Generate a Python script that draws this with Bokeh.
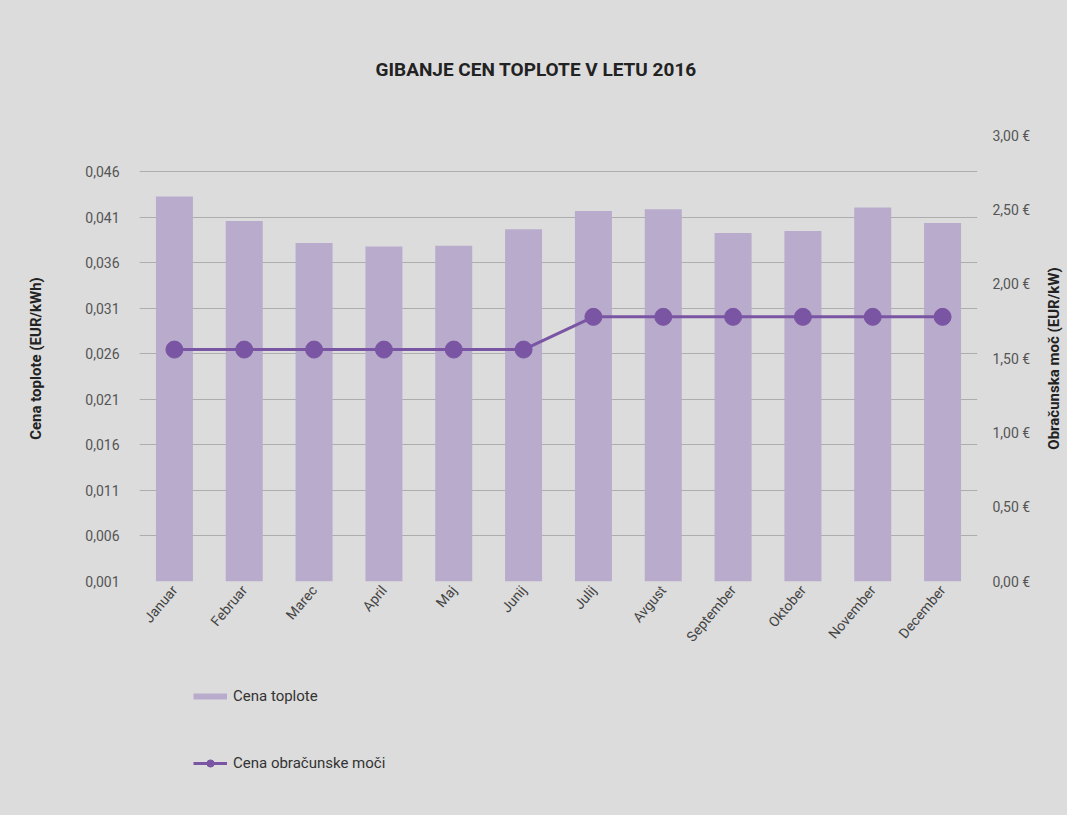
from bokeh.plotting import figure
from bokeh.layouts import column, row
from bokeh.models import (FactorRange, Range1d, LinearAxis, FixedTicker, CustomJSTickFormatter,
                          Legend, LegendItem, ColumnDataSource)
from bokeh.embed import file_html
from bokeh.resources import INLINE

months = ["Januar", "Februar", "Marec", "April", "Maj", "Junij", "Julij", "Avgust",
          "September", "Oktober", "November", "December"]
heat_price = [0.0433, 0.0406, 0.0382, 0.0378, 0.0379, 0.0397, 0.0417, 0.0419,
              0.0393, 0.0395, 0.0421, 0.0404]
power_price = [1.56, 1.56, 1.56, 1.56, 1.56, 1.56, 1.78, 1.78, 1.78, 1.78, 1.78, 1.78]
left_ticks = [0.001, 0.006, 0.011, 0.016, 0.021, 0.026, 0.031, 0.036, 0.041, 0.046]
right_ticks = [0.0, 0.5, 1.0, 1.5, 2.0, 2.5, 3.0]
series_names = ["Cena toplote", "Cena obračunske moči"]
right_label = "Obračunska moč (EUR/kW)"

FONT = "Roboto"
BG = "#dcdcdc"
BAR = "#b9abcc"
LINE = "#7a55a3"
CSS = {"background-color": BG}

src = ColumnDataSource(dict(m=months, heat=heat_price, power=power_price))

p = figure(width=1042, height=660, x_range=FactorRange(*months), y_range=Range1d(0.001, 0.050),
           output_backend="svg", toolbar_location=None,
           min_border_left=139, min_border_right=65, min_border_top=135, min_border_bottom=79,
           background_fill_color=None, border_fill_color=BG)
p.styles = CSS
p.outline_line_color = None
p.extra_y_ranges = {"right": Range1d(0, 3.0)}

p.title.text = "GIBANJE CEN TOPLOTE V LETU 2016"
p.title.align = "left"
p.title.offset = 236
p.title.text_font = FONT
p.title.text_font_size = "19px"
p.title.text_font_style = "bold"
p.title.text_color = "#222222"
p.title.standoff = 110

p.vbar(x="m", top="heat", bottom=0.001, width=0.53, source=src,
       fill_color=BAR, line_color=None)
p.line(x="m", y="power", source=src, y_range_name="right", line_color=LINE, line_width=3)
p.scatter(x="m", y="power", source=src, y_range_name="right", size=17,
          fill_color=LINE, line_color=LINE)

# left axis
ya = p.yaxis[0]
ya.ticker = FixedTicker(ticks=left_ticks)
ya.formatter = CustomJSTickFormatter(code="return tick.toFixed(3).replace('.', ',');")
ya.axis_label = "Cena toplote (EUR/kWh)"
ya.axis_label_text_font = FONT
ya.axis_label_text_font_size = "15px"
ya.axis_label_text_font_style = "bold"
ya.axis_label_text_color = "#222222"
ya.axis_label_standoff = 37
ya.major_label_text_font = FONT
ya.major_label_text_font_size = "14px"
ya.major_label_text_color = "#555555"
ya.major_label_standoff = 20
ya.major_tick_out = 0
ya.major_tick_in = 0
ya.axis_line_color = None
ya.major_tick_line_color = None
ya.minor_tick_line_color = None

# right axis (its title is drawn in the narrow strip to the right)
ra = LinearAxis(y_range_name="right", ticker=FixedTicker(ticks=right_ticks),
                formatter=CustomJSTickFormatter(code="return tick.toFixed(2).replace('.', ',') + ' \u20ac';"))
ra.major_label_text_font = FONT
ra.major_label_text_font_size = "14px"
ra.major_label_text_color = "#555555"
ra.major_label_standoff = 15
ra.major_tick_out = 0
ra.major_tick_in = 0
ra.axis_line_color = None
ra.major_tick_line_color = None
ra.minor_tick_line_color = None
p.add_layout(ra, "right")

# x axis
xa = p.xaxis[0]
xa.major_label_orientation = 0.87
xa.major_label_text_font = FONT
xa.major_label_text_font_size = "14px"
xa.major_label_text_color = "#444444"
xa.axis_line_color = None
xa.major_tick_line_color = None
xa.major_tick_out = 0
xa.major_tick_in = 0
xa.major_label_standoff = 6

p.xgrid.grid_line_color = None
p.ygrid.grid_line_color = "#adadad"
p.ygrid.grid_line_width = 1.2

# narrow strip holding the right axis title, reading bottom-to-top
r = figure(width=25, height=660, x_range=Range1d(0, 1), y_range=Range1d(0, 1),
           output_backend="svg", toolbar_location=None,
           min_border_left=0, min_border_right=0, min_border_top=135, min_border_bottom=79,
           background_fill_color=None, border_fill_color=BG,
           title=right_label, title_location="left")
r.styles = CSS
r.outline_line_color = None
r.axis.visible = False
r.grid.visible = False
r.title.align = "center"
r.title.standoff = 0
r.title.text_font = FONT
r.title.text_font_size = "15px"
r.title.text_font_style = "bold"
r.title.text_color = "#222222"

# legend strip below the chart (proxy glyphs sit outside its visible range)
q = figure(width=1067, height=155, x_range=Range1d(0, 1), y_range=Range1d(0, 1),
           output_backend="svg", toolbar_location=None,
           min_border_left=139, min_border_right=90, min_border_top=0, min_border_bottom=0,
           background_fill_color=None, border_fill_color=BG)
q.styles = CSS
q.outline_line_color = None
q.axis.visible = False
q.grid.visible = False
proxy = ColumnDataSource(dict(x=[-5, -4], y=[-5, -4]))
sw = q.line(x="x", y="y", source=proxy, line_color=BAR, line_width=6)
lg_line = q.line(x="x", y="y", source=proxy, line_color=LINE, line_width=3)
lg_dot = q.scatter(x="x", y="y", source=proxy, size=12, fill_color=LINE, line_color=LINE)
legend = Legend(items=[LegendItem(label=series_names[0], renderers=[sw]),
                       LegendItem(label=series_names[1], renderers=[lg_line, lg_dot])],
                location=(54, 43), orientation="vertical",
                background_fill_alpha=0, border_line_color=None,
                label_text_font=FONT, label_text_font_size="15px", label_text_color="#333333",
                glyph_width=34, glyph_height=18, label_height=18, spacing=49,
                padding=0, margin=0, label_standoff=6)
q.add_layout(legend, "center")

top = row(p, r, spacing=0)
top.styles = CSS
layout = column(top, q, spacing=0)
layout.styles = CSS
open("out.html", "w").write(file_html(layout, INLINE))
